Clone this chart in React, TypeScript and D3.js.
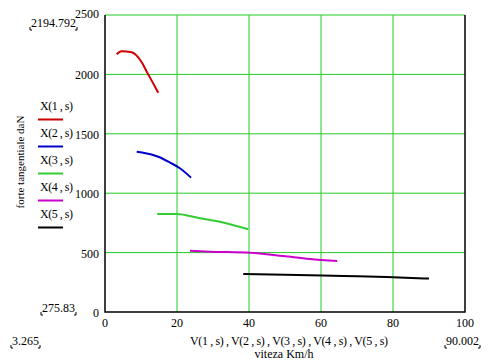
import { useRef, useEffect } from 'react'
import * as d3 from 'd3'

// speed (km/h) and tractive force (daN) for each gear
const v1 = [3.265, 4.6, 7.4, 10.2, 11.6, 13.2, 14.8]
const f1 = [2170, 2194.8, 2186, 2102, 2023, 1935, 1846]
const v2 = [8.8, 10.6, 14.8, 18.1, 20.8, 23.9]
const f2 = [1349, 1341, 1307, 1257, 1210, 1131]
const v3 = [14.5, 19.9, 26.4, 31.9, 39.8]
const f3 = [825, 825, 789, 760, 696]
const v4 = [23.6, 29.2, 40.3, 49.5, 56.9, 64.5]
const f4 = [516, 508, 499, 471, 446, 429]
const v5 = [38.4, 50, 66.2, 78.2, 90.002]
const f5 = [320, 314, 303, 295, 281]

const seriesNames = ['X(1 , s)', 'X(2 , s)', 'X(3 , s)', 'X(4 , s)', 'X(5 , s)']
const seriesColors = ['#cc0000', '#0000cc', '#33cc33', '#cc00cc', '#000000']
const xTicks = [0, 20, 40, 60, 80, 100]
const yTicks = [0, 500, 1000, 1500, 2000, 2500]

export default function App() {
  const svgRef = useRef<SVGSVGElement>(null)

  useEffect(() => {
    const w = 491
    const h = 364
    const font = "'Liberation Serif', 'Times New Roman', serif"
    const svg = d3.select(svgRef.current)
      .attr('width', w)
      .attr('height', h)
      .style('background', '#fff')
      .style('font-family', font)
      .style('font-size', '12px')
    svg.selectAll('*').remove()

    const x = d3.scaleLinear().domain([0, 100]).range([105, 465])
    const y = d3.scaleLinear().domain([0, 2500]).range([312, 15])

    // grid
    const grid = svg.append('g')
    grid.selectAll('.gx')
      .data(xTicks.slice(1, -1))
      .join('line')
        .attr('x1', d => x(d)).attr('x2', d => x(d))
        .attr('y1', y(0)).attr('y2', y(2500))
        .attr('stroke', '#22cc22').attr('stroke-width', 1)
    grid.selectAll('.gy')
      .data(yTicks.slice(1))
      .join('line')
        .attr('x1', x(0)).attr('x2', x(100))
        .attr('y1', d => y(d)).attr('y2', d => y(d))
        .attr('stroke', '#22cc22').attr('stroke-width', 1)

    // frame (left, bottom, right)
    svg.append('path')
      .attr('d', `M${x(0)},${y(2500)}V${y(0)}H${x(100)}V${y(2500)}`)
      .attr('fill', 'none').attr('stroke', '#000').attr('stroke-width', 1.5)

    // tick labels
    svg.append('g').selectAll('text')
      .data(yTicks)
      .join('text')
        .attr('x', 99)
        .attr('y', d => d === 2500 ? y(d) + 3 : y(d) + 5)
        .attr('text-anchor', 'end')
        .text(d => d)
    svg.append('g').selectAll('text')
      .data(xTicks)
      .join('text')
        .attr('x', d => x(d))
        .attr('y', 327)
        .attr('text-anchor', d => d === 0 ? 'start' : 'middle')
        .attr('dx', d => d === 0 ? -3 : 0)
        .text(d => d)

    // curves
    const line = d3.line<[number, number]>()
      .x(d => x(d[0]))
      .y(d => y(d[1]))
      .curve(d3.curveMonotoneX)
    const vs = [v1, v2, v3, v4, v5]
    const fs = [f1, f2, f3, f4, f5]
    vs.forEach((v, i) => {
      svg.append('path')
        .datum(v.map((s, j) => [s, fs[i][j]] as [number, number]))
        .attr('d', line)
        .attr('fill', 'none')
        .attr('stroke', seriesColors[i])
        .attr('stroke-width', 2)
    })

    // legend
    const leg = svg.append('g')
    seriesNames.forEach((name, i) => {
      const yy = 110 + i * 27
      leg.append('text')
        .attr('x', 40).attr('y', yy)
        .attr('textLength', 33).attr('lengthAdjust', 'spacing')
        .text(name)
      leg.append('line')
        .attr('x1', 38).attr('x2', 63)
        .attr('y1', yy + 9.5).attr('y2', yy + 9.5)
        .attr('stroke', seriesColors[i]).attr('stroke-width', 2)
    })

    // axis titles
    svg.append('text')
      .attr('transform', 'translate(24,162) rotate(-90)')
      .attr('text-anchor', 'middle')
      .style('font-size', '11px')
      .text('forte tangentiale daN')
    svg.append('text')
      .attr('x', 190).attr('y', 345)
      .attr('textLength', 198).attr('lengthAdjust', 'spacing')
      .text('V(1 , s) , V(2 , s) , V(3 , s) , V(4 , s) , V(5 , s)')
    svg.append('text')
      .attr('x', 284).attr('y', 358)
      .attr('text-anchor', 'middle')
      .text('viteza Km/h')

    // range labels with corner marks
    const bracketLabel = (txt: string, bx: number, by: number) => {
      const t = svg.append('text')
        .attr('x', bx).attr('y', by)
        .text(txt)
      const bb = (t.node() as SVGTextElement).getBBox()
      const l = bb.x - 1
      const r = bb.x + bb.width + 1
      const b = by + 3
      svg.append('path')
        .attr('d', `M${l},${b - 3}V${b}H${l + 2} M${r},${b - 3}V${b}H${r - 2}`)
        .attr('fill', 'none').attr('stroke', '#000').attr('stroke-width', 1)
    }
    bracketLabel('2194.792', 31, 27)
    bracketLabel('275.83', 42, 312)
    bracketLabel('3.265', 12, 345)
    bracketLabel('90.002', 446, 345)
  }, [])

  return <svg ref={svgRef} style={{ position: 'absolute', left: 0, top: 0 }}></svg>
}
